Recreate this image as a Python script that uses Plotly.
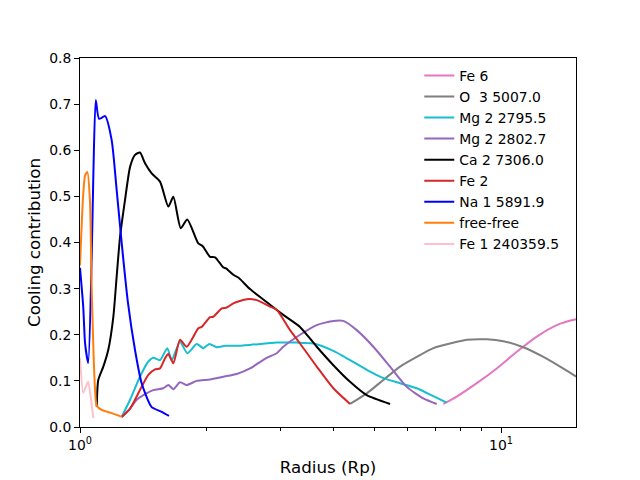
import plotly.graph_objects as go

# --- data (radius in Rp, cooling contribution) ---
fe6_r = [7.294, 7.849, 8.756, 9.768, 10.897, 12.156, 13.563, 14.99, 16.27]
fe6_c = [0.050, 0.066, 0.095, 0.127, 0.163, 0.196, 0.221, 0.233, 0.238]

o3_r = [4.379, 4.798, 5.254, 5.756, 6.306, 6.906, 7.565, 8.290, 9.248, 10.127,
        11.297, 12.603, 13.81, 14.99, 16.27]
o3_c = [0.050, 0.073, 0.102, 0.131, 0.152, 0.171, 0.181, 0.189, 0.190, 0.186,
        0.173, 0.152, 0.131, 0.111, 0.090]

mg2a_r = [1.256, 1.315, 1.388, 1.453, 1.493, 1.549, 1.612, 1.651, 1.728, 1.798,
          1.893, 1.963, 2.028, 2.112, 2.210, 2.356, 2.534, 2.932, 3.271, 3.582,
          3.997, 4.379, 4.798, 5.254, 5.756, 6.306, 6.906, 7.431]
mg2a_c = [0.022, 0.059, 0.109, 0.142, 0.150, 0.145, 0.171, 0.145, 0.185, 0.160,
          0.180, 0.171, 0.180, 0.173, 0.176, 0.176, 0.178, 0.183, 0.183, 0.181,
          0.165, 0.145, 0.124, 0.106, 0.095, 0.084, 0.067, 0.053]

mg2b_r = [1.256, 1.315, 1.364, 1.414, 1.493, 1.577, 1.621, 1.666, 1.728, 1.793,
          1.893, 2.036, 2.190, 2.356, 2.534, 2.776, 2.932, 3.040, 3.331, 3.650,
          3.997, 4.221, 4.542, 4.974, 5.449, 5.971, 6.538, 7.035]
mg2b_c = [0.021, 0.040, 0.059, 0.069, 0.080, 0.084, 0.091, 0.082, 0.097, 0.091,
          0.100, 0.103, 0.109, 0.115, 0.127, 0.150, 0.160, 0.174, 0.200, 0.221,
          0.230, 0.230, 0.210, 0.174, 0.131, 0.087, 0.062, 0.050]

ca2_r = [1.096, 1.105, 1.136, 1.167, 1.200, 1.222, 1.245, 1.279, 1.315, 1.351,
         1.388, 1.427, 1.480, 1.549, 1.621, 1.666, 1.735, 1.798, 1.910, 1.957,
         2.036, 2.093, 2.190, 2.222, 2.313, 2.377, 2.534, 2.827, 3.040, 3.331,
         3.650, 3.997, 4.379, 4.798, 5.449]
ca2_c = [0.044, 0.102, 0.131, 0.167, 0.239, 0.326, 0.413, 0.492, 0.564, 0.590,
         0.595, 0.572, 0.550, 0.532, 0.478, 0.499, 0.431, 0.450, 0.398, 0.392,
         0.369, 0.368, 0.346, 0.344, 0.330, 0.324, 0.299, 0.265, 0.243, 0.217,
         0.174, 0.134, 0.098, 0.069, 0.050]

fe2_r = [1.256, 1.315, 1.388, 1.453, 1.507, 1.549, 1.592, 1.621, 1.666, 1.728,
         1.793, 1.910, 1.946, 2.036, 2.073, 2.171, 2.231, 2.313, 2.489, 2.629,
         2.827, 2.932, 3.154, 3.331, 3.650, 3.997, 4.379]
fe2_c = [0.022, 0.040, 0.080, 0.113, 0.125, 0.127, 0.149, 0.158, 0.138, 0.189,
         0.174, 0.214, 0.217, 0.238, 0.239, 0.257, 0.259, 0.268, 0.277, 0.275,
         0.261, 0.254, 0.210, 0.181, 0.131, 0.084, 0.050]

na1_r = [1.0, 1.018, 1.028, 1.046, 1.066, 1.076, 1.090, 1.110, 1.147, 1.189,
         1.222, 1.256, 1.300, 1.351, 1.401, 1.480, 1.563, 1.627]
na1_c = [0.345, 0.260, 0.182, 0.139, 0.370, 0.550, 0.709, 0.668, 0.674, 0.622,
         0.514, 0.399, 0.269, 0.167, 0.095, 0.043, 0.033, 0.024]

ff_r = [1.0, 1.017, 1.028, 1.041, 1.056, 1.066, 1.086, 1.096, 1.126, 1.189, 1.256]
ff_c = [0.350, 0.500, 0.545, 0.553, 0.490, 0.300, 0.080, 0.046, 0.037, 0.030, 0.022]

fe1_r = [1.0, 1.018, 1.033, 1.046, 1.062, 1.076]
fe1_c = [0.150, 0.074, 0.088, 0.098, 0.060, 0.019]

series = [
    ("Fe 6", fe6_r, fe6_c, "#e377c2"),
    ("O  3 5007.0", o3_r, o3_c, "#7f7f7f"),
    ("Mg 2 2795.5", mg2a_r, mg2a_c, "#17becf"),
    ("Mg 2 2802.7", mg2b_r, mg2b_c, "#9467bd"),
    ("Ca 2 7306.0", ca2_r, ca2_c, "#000000"),
    ("Fe 2", fe2_r, fe2_c, "#d62728"),
    ("Na 1 5891.9", na1_r, na1_c, "#0000ff"),
    ("free-free", ff_r, ff_c, "#ff7f0e"),
    ("Fe 1 240359.5", fe1_r, fe1_c, "#ffc0cb"),
]

fig = go.Figure()
for name, r, c, col in series:
    fig.add_trace(go.Scatter(
        x=r, y=c, mode="lines", name=name.replace("  ", "&nbsp; "),
        line=dict(color=col, width=2, shape="spline", smoothing=0.6),
    ))

font = dict(family="DejaVu Sans", size=13.9, color="black")

# the page adds an 8px body margin, so the margins are set 8px smaller on top/left
fig.update_layout(
    width=640, height=480,
    margin=dict(l=72, r=72, t=50, b=61),
    paper_bgcolor="white", plot_bgcolor="white",
    font=font,
    showlegend=True,
    legend=dict(x=0.684, y=0.995, xanchor="left", yanchor="top",
                bgcolor="rgba(0,0,0,0)", font=dict(size=13.9),
                tracegroupgap=0, itemwidth=30),
)

fig.update_xaxes(
    type="log", range=[0, 1.178], automargin=False,
    title=dict(text="Radius (Rp)", font=dict(size=16.7), standoff=9),
    tickvals=[1, 10], ticktext=["10<sup>0</sup>", "10<sup>1</sup>"],
    ticks="outside", ticklen=5, tickcolor="black",
    minor=dict(tickvals=[2, 3, 4, 5, 6, 7, 8, 9], ticks="outside",
               ticklen=3, tickcolor="black", showgrid=False),
    showline=True, linecolor="black", linewidth=1, mirror=True,
    showgrid=False, zeroline=False,
)
fig.update_yaxes(
    range=[0, 0.8], dtick=0.1, tickformat=".1f", automargin=False,
    title=dict(text="Cooling contribution", font=dict(size=16.7), standoff=4),
    ticks="outside", ticklen=5, tickcolor="black",
    showline=True, linecolor="black", linewidth=1, mirror=True,
    showgrid=False, zeroline=False,
)

fig.write_html("out.html")
